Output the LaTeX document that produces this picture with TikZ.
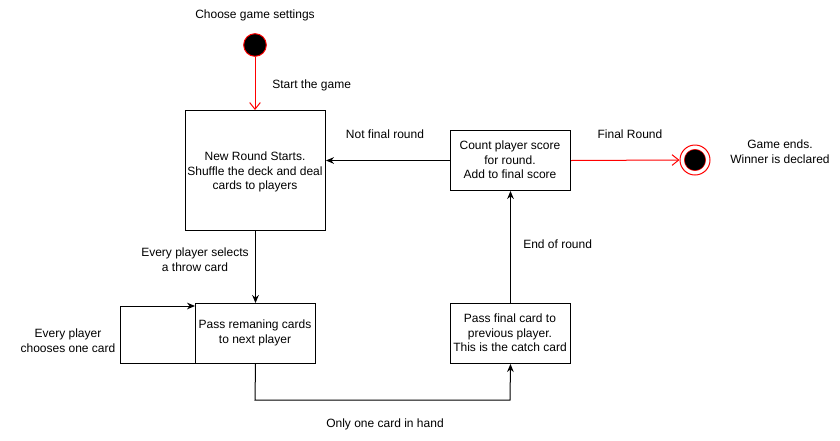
\documentclass[tikz,border=0pt]{standalone}
\usepackage{fontspec}
\setmainfont{Liberation Sans}
\usetikzlibrary{arrows.meta}
\begin{document}
\begin{tikzpicture}[x=0.75pt,y=-0.75pt,
  every node/.style={font=\fontsize{9}{11}\selectfont, inner sep=0pt},
  state/.style={draw, thick, line width=0.75pt, align=center, anchor=north west},
  lbl/.style={align=center},
  arr/.style={line width=0.75pt, -{Stealth[length=6pt,width=5pt]}},
  redarr/.style={line width=0.75pt, red, -{Straight Barb[length=5pt,width=8pt]}}
]
\useasboundingbox (0,0) rectangle (840,440);
% start
\node (start) [circle, draw=red, fill=black, line width=0.75pt, minimum size=17pt] at (255,45) {};
\node (startlbl) [lbl] at (255,15) {Choose game settings};
% boxes
\node (b1) [state, minimum width=105pt, minimum height=90pt] at (185,110) {};
\node (b1t) [lbl] at (255,172) {New Round Starts.\\Shuffle the deck and deal\\cards to players};
\node (b2) [state, minimum width=90pt, minimum height=45pt] at (195,303) {};
\node (b2t) [lbl] at (255,333) {Pass remaning cards\\to next player};
\node (b3) [state, minimum width=90pt, minimum height=45pt] at (450,303) {};
\node (b3t) [lbl] at (510,333) {Pass final card to\\previous player.\\This is the catch card};
\node (b4) [state, minimum width=90pt, minimum height=45pt] at (450,130) {};
\node (b4t) [lbl] at (510,160) {Count player score\\for round.\\Add to final score};
% end
\node (endc) [circle, draw=red, fill=white, line width=0.75pt, minimum size=22.5pt] at (695,160) {};
\node (endi) [circle, fill=black, draw=red, line width=0.4pt, minimum size=16pt] at (695,160) {};
% connectors
\draw[redarr] (start.south) -- (b1.north -| start.south);
\node (l1) [lbl, anchor=west] at (272,85) {Start the game};
\draw[arr] (b1.south) -- (b2.north -| b1.south);
\node (l2) [lbl] at (195,260) {Every player selects\\a throw card};
\coordinate (c1) at (195,363);
\coordinate (c2) at (120,363);
\coordinate (c3) at (120,306);
\coordinate (c4) at (195,306);
\draw[arr] (c1) -- (c2) -- (c3) -- (c4);
\node (l3) [lbl] at (68,341) {Every player\\chooses one card};
\coordinate (d1) at (255,400);
\coordinate (d2) at (510,400);
\draw[arr] (b2.south) -- (d1) -- (d2) -- (b3.south);
\node (l4) [lbl] at (385,424) {Only one card in hand};
\draw[arr] (b3.north) -- (b4.south);
\node (l5) [lbl, anchor=west] at (523,244) {End of round};
\draw[arr] (b4.west) -- (b1.east |- b4.west);
\node (l6) [lbl] at (385,134) {Not final round};
\draw[redarr] (b4.east) -- (endc.west);
\node (l7) [lbl] at (630,134) {Final Round};
\node (l8) [lbl] at (780,152) {Game ends.\\Winner is declared};
\end{tikzpicture}
\end{document}
